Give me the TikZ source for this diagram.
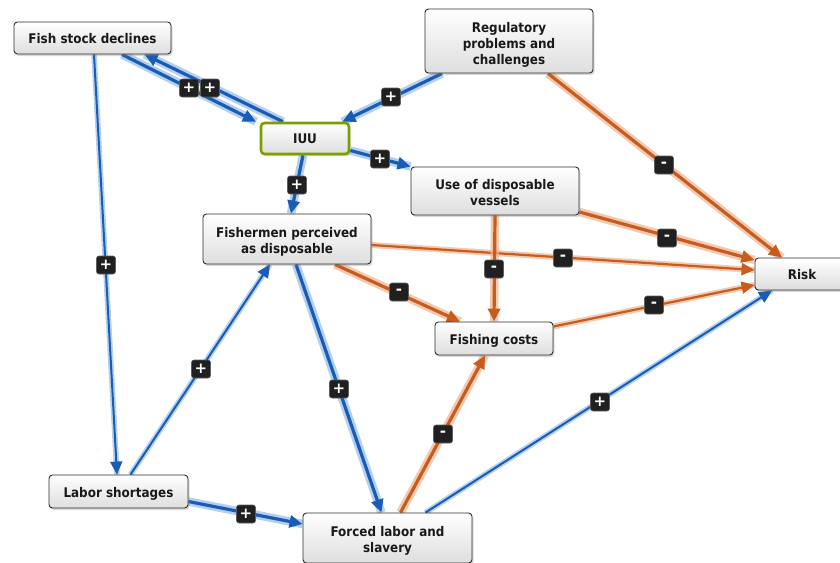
\documentclass[tikz,border=0pt]{standalone}
\usepackage{fontspec}
\usetikzlibrary{arrows.meta,shadows}
\newfontfamily\boxfamily[FakeStretch=0.9]{DejaVu Sans}
\newfontfamily\signfamily{DejaVu Sans}
\pgfdeclarelayer{edges}
\pgfsetlayers{edges,main}

% lowers a (possibly multi-line) label inside its box, keeping its size
\newcommand\lowered[2]{\raisebox{-#1}[\height][\depth]{\begin{tabular}{@{}c@{}}#2\end{tabular}}}

\definecolor{bluecore}{RGB}{24,92,184}
\definecolor{bluehalo}{RGB}{150,188,230}
\definecolor{orangecore}{RGB}{201,92,28}
\definecolor{orangehalo}{RGB}{236,180,145}
\definecolor{boxline}{RGB}{45,45,45}
\definecolor{boxbot}{RGB}{222,222,222}
\definecolor{iuugreen}{RGB}{122,160,0}
\definecolor{signbg}{RGB}{32,32,32}
\definecolor{signedge}{RGB}{95,95,95}
\definecolor{txt}{RGB}{25,25,25}

\tikzset{
  box/.style={draw=boxline, line width=0.9pt, rounded corners=3.5pt,
    top color=white, bottom color=boxbot, inner sep=0pt, align=center,
    text=txt, font=\boxfamily\bfseries\fontsize{13.3}{16}\selectfont,
    drop shadow={shadow xshift=1.5pt, shadow yshift=-2pt, opacity=0.3}},
  sign/.style={fill=signbg, draw=signedge, line width=0.6pt, rounded corners=2.5pt,
    minimum width=19pt, minimum height=18pt, inner sep=0pt, text=white,
    font=\signfamily\bfseries\fontsize{15}{15}\selectfont},
  tip/.style={-{Triangle[length=13pt,width=12pt]}},
  posthin/.style={tip, draw=bluecore, line width=2pt,
    preaction={draw=bluehalo, line width=5.5pt, opacity=0.7, -}},
  posthick/.style={tip, draw=bluecore, line width=3.2pt,
    preaction={draw=bluehalo, line width=8.5pt, opacity=0.7, -}},
  negthin/.style={tip, draw=orangecore, line width=2.2pt,
    preaction={draw=orangehalo, line width=6pt, opacity=0.7, -}},
  negthick/.style={tip, draw=orangecore, line width=3.2pt,
    preaction={draw=orangehalo, line width=8.5pt, opacity=0.7, -}},
}

\begin{document}
\begin{tikzpicture}[x=1pt,y=-1pt]
\path[use as bounding box, clip] (0,0) rectangle (840,562);

% factors
\node[box, minimum width=157pt, minimum height=32pt] (fish) at (92.5,38) {\lowered{2pt}{Fish stock declines}};
\node[box, minimum width=168pt, minimum height=64pt] (reg) at (509,41) {\lowered{4pt}{Regulatory\\problems and\\challenges}};
\node[box, draw=iuugreen, line width=2.6pt, minimum width=88pt, minimum height=31pt] (iuu) at (305,138.5) {\lowered{2pt}{IUU}};
\node[box, minimum width=168pt, minimum height=48pt] (vessels) at (495,191) {\lowered{3pt}{Use of disposable\\vessels}};
\node[box, minimum width=168pt, minimum height=50pt] (fishermen) at (287,239) {\lowered{3pt}{Fishermen perceived\\as disposable}};
\node[box, minimum width=90pt, minimum height=32pt] (risk) at (800,274) {\lowered{2.5pt}{\hspace*{4pt}Risk}};
\node[box, minimum width=118pt, minimum height=33pt] (costs) at (494,338.5) {\lowered{2.5pt}{Fishing costs}};
\node[box, minimum width=139pt, minimum height=33pt] (labor) at (118.5,491.5) {\lowered{2.5pt}{Labor shortages}};
\node[box, minimum width=169pt, minimum height=50pt] (forced) at (387.5,538) {\lowered{3pt}{Forced labor and\\slavery}};

% causal links
\begin{pgfonlayer}{edges}
\draw[posthick] ([xshift=29.5pt]fish.south) -- ([xshift=-49pt]iuu.north);
\draw[posthick] ([xshift=-22pt]iuu.north) -- ([xshift=52pt]fish.south);
\draw[posthick] ([xshift=-67pt]reg.south) -- ([xshift=-8pt]iuu.north east);
\draw[negthick] ([xshift=39pt]reg.south) -- ([xshift=-18pt]risk.north);
\draw[posthick] ([yshift=-12pt]iuu.east) -- (vessels.north west);
\draw[posthick] ([xshift=-2pt]iuu.south) -- ([xshift=4pt]fishermen.north);
\draw[posthin] ([xshift=1.5pt]fish.south) -- ([xshift=-1.5pt]labor.north);
\draw[posthin] ([xshift=12pt]labor.north) -- ([xshift=-17pt]fishermen.south);
\draw[posthick] ([xshift=9pt]fishermen.south) -- ([xshift=-6pt]forced.north);
\draw[posthick] ([yshift=-10pt]labor.east) -- ([yshift=14pt]forced.west);
\draw[negthin] ([yshift=-6pt]fishermen.east) -- ([yshift=4pt]risk.west);
\draw[negthick] ([xshift=48pt]fishermen.south) -- ([xshift=-34pt]costs.north);
\draw[negthick] (vessels.south) -- (costs.north);
\draw[negthick] ([yshift=-21pt]vessels.east) -- ([yshift=14pt]risk.west);
\draw[negthin] ([yshift=12pt]costs.east) -- ([yshift=-11pt]risk.west);
\draw[negthick] ([xshift=13pt]forced.north) -- ([xshift=-9pt]costs.south);
\draw[posthin] ([xshift=38pt]forced.north) -- ([xshift=-28pt]risk.south);
\end{pgfonlayer}

% polarity markers
\node[sign] (s1) at (189,88) {+};
\node[sign] (s2) at (210,88) {+};
\node[sign] (s3) at (391,97) {+};
\node[sign] (s4) at (664,165) {-};
\node[sign] (s5) at (380,159) {+};
\node[sign] (s6) at (297,185) {+};
\node[sign] (s7) at (106,265) {+};
\node[sign] (s8) at (201,369) {+};
\node[sign] (s9) at (339,389) {+};
\node[sign] (s10) at (246,514) {+};
\node[sign] (s11) at (563,258) {-};
\node[sign] (s12) at (399,292) {-};
\node[sign] (s13) at (494,269) {-};
\node[sign] (s14) at (667,238) {-};
\node[sign] (s15) at (654,305) {-};
\node[sign] (s16) at (443,434) {-};
\node[sign] (s17) at (600,402) {+};
\end{tikzpicture}
\end{document}
